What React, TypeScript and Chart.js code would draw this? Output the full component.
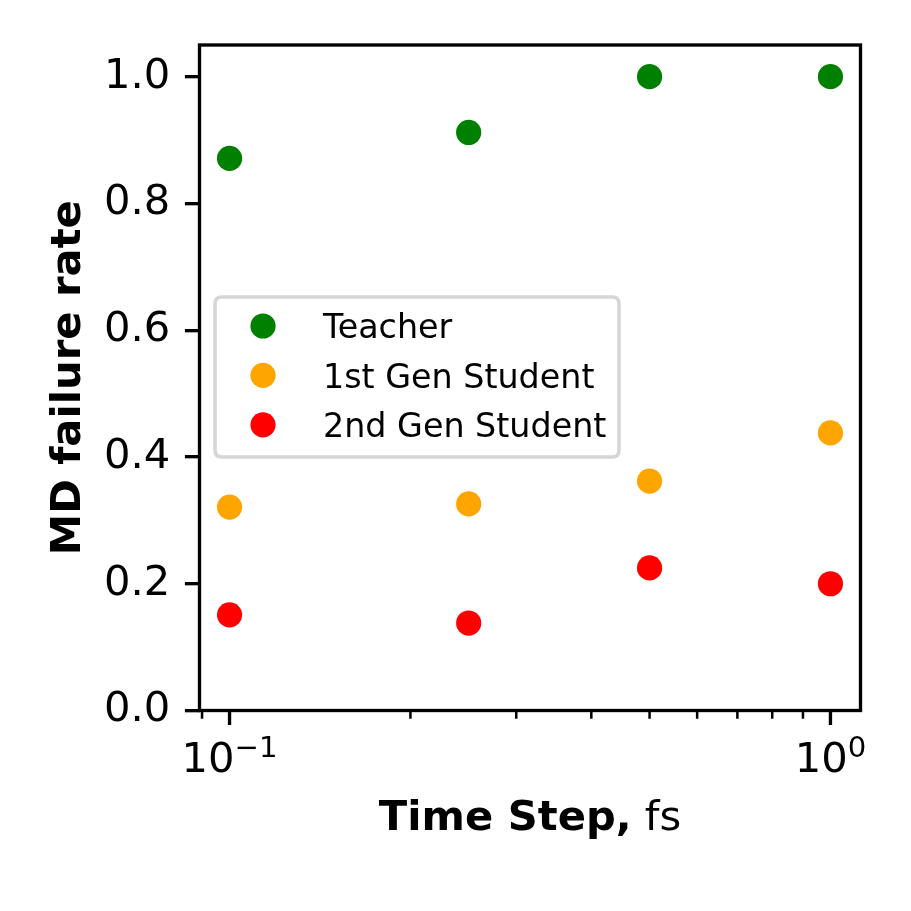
import React, { useEffect, useRef } from "react";
import { Chart, registerables } from "chart.js";

Chart.register(...registerables);

const SERIES_NAMES = ["Teacher", "1st Gen Student", "2nd Gen Student"];
const SERIES_COLORS = ["#008000", "#FFA500", "#FF0000"];
const TIME_STEPS = [0.1, 0.25, 0.5, 1.0];
const TEACHER = [0.871, 0.912, 1.0, 1.0];
const GEN1 = [0.321, 0.326, 0.362, 0.438];
const GEN2 = [0.151, 0.138, 0.225, 0.2];
const Y_TICKS = [0, 0.2, 0.4, 0.6, 0.8, 1.0];
const X_MAJOR = [0.1, 1];
const X_MAJOR_LABELS = [
  ["10", "\u22121"],
  ["10", "0"],
];
const X_MINOR = [0.09, 0.2, 0.3, 0.4, 0.5, 0.6, 0.7, 0.8, 0.9];
const X_TITLE_BOLD = "Time Step,";
const X_TITLE_NORMAL = " fs";
const Y_TITLE = "MD failure rate";

const FONT = "'DejaVu Sans', sans-serif";
const TICK_PX = 41.67;
const LEGEND_PX = 33.33;
const LW = 3.33;

const overlay = {
  id: "overlay",
  afterDraw(chart: any) {
    const ctx = chart.ctx;
    const ca = chart.chartArea;
    const xs = chart.scales.x;
    ctx.save();
    // frame
    ctx.strokeStyle = "#000";
    ctx.lineWidth = LW;
    ctx.lineJoin = "miter";
    ctx.strokeRect(ca.left, ca.top, ca.right - ca.left, ca.bottom - ca.top);
    // x ticks
    ctx.lineWidth = LW;
    ctx.beginPath();
    X_MAJOR.forEach((v) => {
      const px = xs.getPixelForValue(v);
      ctx.moveTo(px, ca.bottom);
      ctx.lineTo(px, ca.bottom + 14.6);
    });
    ctx.stroke();
    ctx.lineWidth = 2.5;
    ctx.beginPath();
    X_MINOR.forEach((v) => {
      const px = xs.getPixelForValue(v);
      ctx.moveTo(px, ca.bottom);
      ctx.lineTo(px, ca.bottom + 8.3);
    });
    ctx.stroke();
    // x tick labels
    ctx.fillStyle = "#000";
    ctx.textBaseline = "alphabetic";
    ctx.textAlign = "left";
    const baseY = ca.bottom + 61.5;
    X_MAJOR.forEach((v, i) => {
      const [base, sup] = X_MAJOR_LABELS[i];
      ctx.font = `${TICK_PX}px ${FONT}`;
      const wb = ctx.measureText(base).width;
      ctx.font = `${TICK_PX * 0.7}px ${FONT}`;
      const ws = ctx.measureText(sup).width;
      const px = xs.getPixelForValue(v);
      const start = px - (wb + ws) / 2;
      ctx.font = `${TICK_PX}px ${FONT}`;
      ctx.fillText(base, start, baseY);
      ctx.font = `${TICK_PX * 0.7}px ${FONT}`;
      ctx.fillText(sup, start + wb, baseY - 15);
    });
    // x title
    ctx.font = `bold ${TICK_PX}px ${FONT}`;
    const w1 = ctx.measureText(X_TITLE_BOLD).width;
    ctx.font = `${TICK_PX}px ${FONT}`;
    const w2 = ctx.measureText(X_TITLE_NORMAL).width;
    const cx = (ca.left + ca.right) / 2;
    const sx = cx - (w1 + w2) / 2;
    ctx.font = `bold ${TICK_PX}px ${FONT}`;
    ctx.fillText(X_TITLE_BOLD, sx, ca.bottom + 119.5);
    ctx.font = `${TICK_PX}px ${FONT}`;
    ctx.fillText(X_TITLE_NORMAL, sx + w1, ca.bottom + 119.5);
    // y title
    ctx.save();
    ctx.translate(80, (ca.top + ca.bottom) / 2);
    ctx.rotate(-Math.PI / 2);
    ctx.font = `bold ${TICK_PX}px ${FONT}`;
    ctx.textAlign = "center";
    ctx.fillText(Y_TITLE, 0, 0);
    ctx.restore();
    // legend
    const lx = 215, ly = 297, lw = 404, lh = 160, r = 6.7;
    ctx.beginPath();
    ctx.moveTo(lx + r, ly);
    ctx.lineTo(lx + lw - r, ly);
    ctx.quadraticCurveTo(lx + lw, ly, lx + lw, ly + r);
    ctx.lineTo(lx + lw, ly + lh - r);
    ctx.quadraticCurveTo(lx + lw, ly + lh, lx + lw - r, ly + lh);
    ctx.lineTo(lx + r, ly + lh);
    ctx.quadraticCurveTo(lx, ly + lh, lx, ly + lh - r);
    ctx.lineTo(lx, ly + r);
    ctx.quadraticCurveTo(lx, ly, lx + r, ly);
    ctx.closePath();
    ctx.fillStyle = "rgba(255,255,255,0.8)";
    ctx.fill();
    ctx.strokeStyle = "#d6d6d6";
    ctx.lineWidth = 3.6;
    ctx.stroke();
    ctx.font = `${LEGEND_PX}px ${FONT}`;
    ctx.textAlign = "left";
    ctx.textBaseline = "alphabetic";
    SERIES_NAMES.forEach((name, i) => {
      const bl = 338.3 + i * 49.4;
      ctx.fillStyle = SERIES_COLORS[i];
      ctx.beginPath();
      ctx.arc(263, bl - 12.3, 12.6, 0, Math.PI * 2);
      ctx.fill();
      ctx.fillStyle = "#000";
      ctx.fillText(name, 323, bl);
    });
    ctx.restore();
  },
};

export default function App() {
  const ref = useRef<HTMLCanvasElement>(null);
  useEffect(() => {
    const seriesValues = [TEACHER, GEN1, GEN2];
    const chart = new Chart(ref.current as HTMLCanvasElement, {
      type: "scatter",
      data: {
        datasets: SERIES_NAMES.map((name, i) => ({
          label: name,
          data: TIME_STEPS.map((x, j) => ({ x, y: seriesValues[i][j] })),
          backgroundColor: SERIES_COLORS[i],
          borderColor: SERIES_COLORS[i],
          borderWidth: 0,
          pointRadius: 12.6,
          pointHoverRadius: 12.6,
        })),
      },
      options: {
        animation: false,
        responsive: true,
        maintainAspectRatio: false,
        layout: { padding: { left: 0, top: 45, right: 50.5, bottom: 0 } },
        plugins: { legend: { display: false }, tooltip: { enabled: false } },
        scales: {
          x: {
            type: "logarithmic",
            min: Math.pow(10, -1.05),
            max: Math.pow(10, 0.05),
            ticks: { display: false },
            grid: { display: false },
            border: { display: false },
            afterFit: (s: any) => {
              s.height = 200.5;
            },
          },
          y: {
            type: "linear",
            min: 0,
            max: 1.05,
            afterBuildTicks: (s: any) => {
              s.ticks = Y_TICKS.map((v) => ({ value: v }));
            },
            ticks: {
              color: "#000",
              font: { family: FONT, size: TICK_PX },
              padding: 14.6,
              callback: (v: any) => Number(v).toFixed(1),
            },
            grid: {
              display: true,
              drawOnChartArea: false,
              drawTicks: true,
              tickLength: 14.6,
              color: "#000",
              lineWidth: LW,
            },
            border: { display: false },
            afterFit: (s: any) => {
              s.width = 199.5;
            },
          },
        },
      },
      plugins: [overlay],
    });
    return () => chart.destroy();
  }, []);
  return (
    <div style={{ position: "absolute", left: 0, top: 0, width: 911, height: 911, background: "#fff" }}>
      <canvas ref={ref} />
    </div>
  );
}
